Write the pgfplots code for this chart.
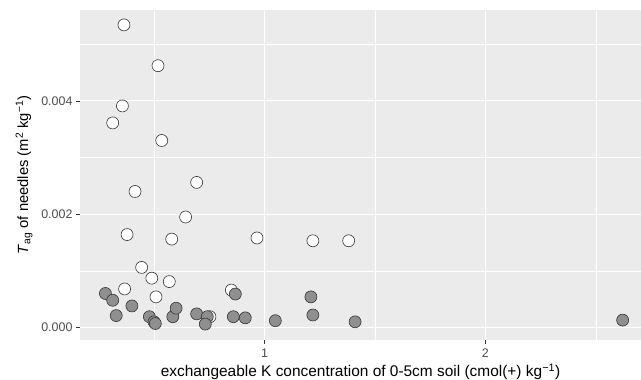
\documentclass[border=0pt]{standalone}
\usepackage{pgfplots}
\pgfplotsset{compat=1.18}
\usepackage{fontspec}
\setmainfont{Liberation Sans}
\setsansfont{Liberation Sans}
\definecolor{panelbg}{HTML}{EBEBEB}
\definecolor{ticktext}{HTML}{4D4D4D}
\definecolor{tickcol}{HTML}{333333}
\definecolor{grayfill}{HTML}{8F8F8F}
\begin{document}
\begin{tikzpicture}
\path[use as bounding box] (-80bp,-40bp) rectangle (561bp,340bp);
\begin{axis}[
  at={(0,0)}, anchor=south west,
  scale only axis, width=561bp, height=330bp,
  xmin=0.165, xmax=2.704, ymin=-0.000221, ymax=0.005603,
  axis background/.style={fill=panelbg},
  axis line style={draw=none},
  xtick pos=bottom, ytick pos=left,
  xtick={1,2}, xticklabels={1,2},
  minor xtick={0.5,1.5,2.5},
  ytick={0,0.002,0.004}, yticklabels={0.000,0.002,0.004},
  minor ytick={0.001,0.003,0.005},
  scaled y ticks=false,
  grid=both,
  major grid style={white, line width=1.1bp},
  minor grid style={white, line width=0.55bp},
  tick align=outside,
  major tick length=3.5bp,
  minor tick length=0pt,
  tick style={tickcol, line width=0.6bp},
  every tick label/.append style={font=\fontsize{12.5}{14}\selectfont, text=ticktext},
  xticklabel style={yshift=-1.5bp},
  yticklabel style={xshift=-0.5bp},
  /pgf/number format/assume math mode=true,
  xlabel={exchangeable K concentration of 0-5cm soil (cmol(+) kg\textsuperscript{−1})},
  ylabel={\textit{T}\textsubscript{ag} of needles (m\textsuperscript{2} kg\textsuperscript{−1})},
  xlabel style={font=\fontsize{15.5}{17}\selectfont, text=black, yshift=0bp},
  ylabel style={font=\fontsize{14.8}{17}\selectfont, text=black, yshift=2bp},
  clip=false,
]
\addplot[only marks, mark=*, mark size=6bp, mark options={fill=white, draw=tickcol, line width=0.6bp}] coordinates {
(0.364,0.00534) (0.518,0.00462) (0.357,0.00391) (0.313,0.00361) (0.535,0.00330)
(0.693,0.00256) (0.414,0.00240) (0.643,0.00195) (0.378,0.00164) (0.580,0.00156)
(0.444,0.00106) (0.490,0.00087) (0.569,0.00081) (0.367,0.00068) (0.509,0.00054)
(0.966,0.00158) (1.219,0.00153) (1.381,0.00153) (0.850,0.00066) (0.753,0.00019)
};
\addplot[only marks, mark=*, mark size=6bp, mark options={fill=grayfill, draw=tickcol, line width=0.6bp}] coordinates {
(0.280,0.00060) (0.313,0.00048) (0.329,0.00021) (0.400,0.00038) (0.479,0.00019)
(0.500,0.00010) (0.506,0.00007) (0.585,0.00019) (0.600,0.00034) (0.693,0.00024)
(0.741,0.00019) (0.732,0.00006) (0.868,0.00059) (0.859,0.00019) (0.913,0.00017)
(1.049,0.00012) (1.210,0.00054) (1.219,0.00022) (1.410,0.00010) (2.621,0.00013)
};
\end{axis}
\end{tikzpicture}
\end{document}
